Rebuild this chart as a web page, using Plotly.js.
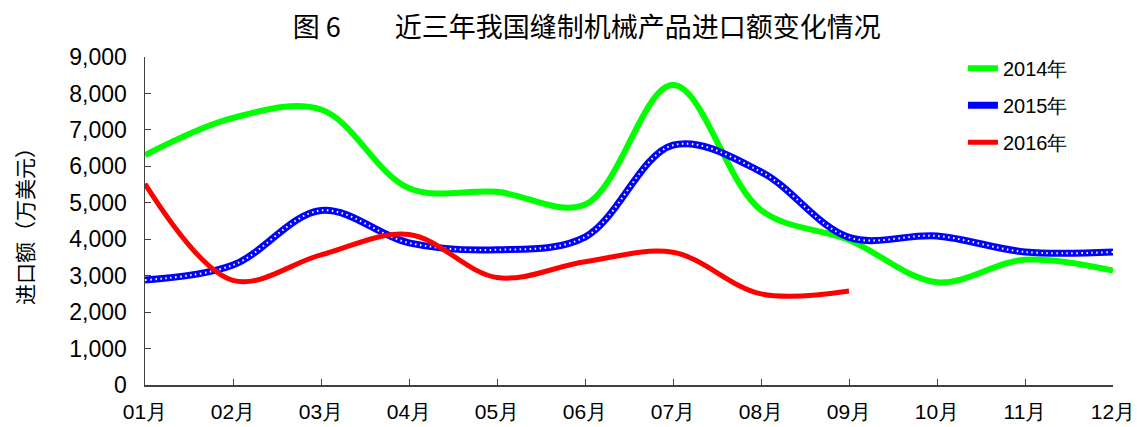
<!DOCTYPE html>
<html>
<head>
<meta charset="utf-8">
<script src="https://cdn.plot.ly/plotly-3.0.1.min.js"></script>
<style>html,body{margin:0;padding:0;background:#fff;}#chart{width:1137px;height:427px;}</style>
</head>
<body>
<div id="chart"></div>
<script>
var months = ["01月","02月","03月","04月","05月","06月","07月","08月","09月","10月","11月","12月"];
var values2014 = [6310, 7330, 7560, 5400, 5300, 4950, 8230, 4800, 3980, 2820, 3440, 3140];
var values2015 = [2880, 3290, 4790, 3900, 3710, 4060, 6580, 5850, 4050, 4090, 3650, 3650];
var values2016 = [5520, 2870, 3570, 4130, 2950, 3380, 3640, 2500, 2580];
var seriesNames = ["2014年", "2015年", "2016年"];

var traces = [
  {x: months, y: values2014, name: seriesNames[0], type: "scatter", mode: "lines",
   line: {color: "#00FF00", width: 6, shape: "spline", smoothing: 1}, legendgroup: "a"},
  {x: months, y: values2015, name: seriesNames[1], type: "scatter", mode: "lines",
   line: {color: "#0000FF", width: 7, shape: "spline", smoothing: 1}, legendgroup: "b"},
  {x: months, y: values2015, name: seriesNames[1], type: "scatter", mode: "lines", showlegend: false,
   line: {color: "#FFFFFF", width: 2, dash: "1.5px,3.5px", shape: "spline", smoothing: 1}, legendgroup: "b", hoverinfo: "skip"},
  {x: months.slice(0, values2016.length), y: values2016, name: seriesNames[2], type: "scatter", mode: "lines",
   line: {color: "#FF0000", width: 5, shape: "spline", smoothing: 1}, legendgroup: "c"}
];

var layout = {
  width: 1137, height: 427,
  margin: {l: 145, r: 24, t: 57, b: 42},
  paper_bgcolor: "#fff", plot_bgcolor: "#fff",
  showlegend: true,
  title: {text: "图 6　　近三年我国缝制机械产品进口额变化情况", x: 0.516, xanchor: "center", y: 0.935, yanchor: "middle",
          font: {family: "Noto Sans CJK SC", size: 27, color: "#000"}},
  xaxis: {type: "category", range: [0, 11], showgrid: false, zeroline: false,
          showline: true, linecolor: "#404040", linewidth: 1.5,
          ticks: "inside", ticklen: 6, tickcolor: "#404040", ticklabelstandoff: 7,
          tickfont: {family: "Liberation Sans Narrow, Liberation Sans, Arial", size: 21, color: "#000"}},
  yaxis: {range: [0, 9000], dtick: 1000, tickformat: ",d", showgrid: false, zeroline: false,
          showline: true, linecolor: "#404040", linewidth: 1.5,
          ticks: "inside", ticklen: 6, tickcolor: "#404040", ticklabelstandoff: 12,
          tickfont: {family: "Liberation Sans, Arial", size: 23, color: "#000"},
          title: {text: "进口额（万美元）", font: {family: "Noto Sans CJK SC", size: 21, color: "#000"}, standoff: 30}},
  legend: {x: 0.845, xanchor: "left", y: 1.025, yanchor: "top", bgcolor: "rgba(0,0,0,0)",
           font: {family: "Liberation Sans, Arial", size: 20, color: "#000"},
           tracegroupgap: 8, itemwidth: 30}
};

Plotly.newPlot("chart", traces, layout, {displayModeBar: false, staticPlot: true});
</script>
</body>
</html>
